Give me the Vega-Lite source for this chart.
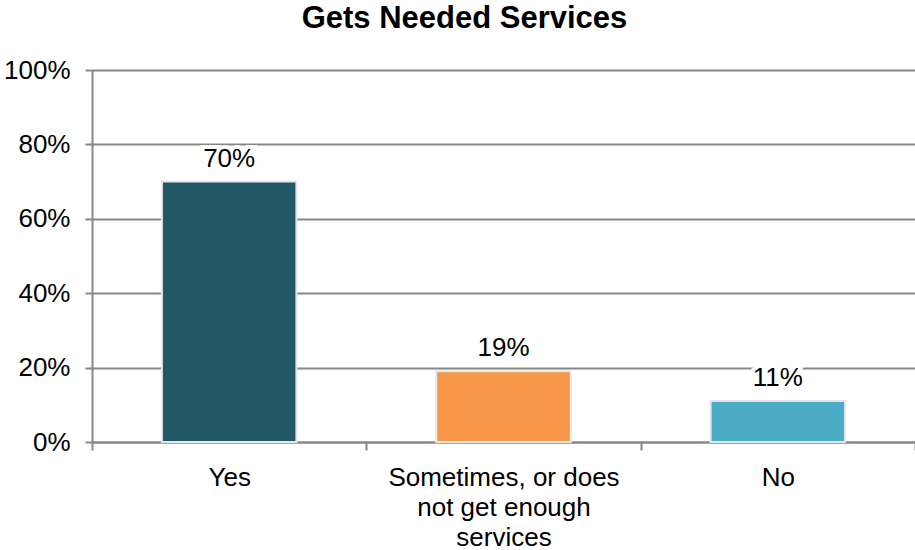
{
  "$schema": "https://vega.github.io/schema/vega-lite/v6.json",
  "autosize": "none",
  "width": 823,
  "height": 372,
  "padding": {"left": 92, "top": 70, "right": 0, "bottom": 108},
  "background": "white",
  "title": {
    "text": "Gets Needed Services",
    "font": "Liberation Sans",
    "fontSize": 31,
    "fontWeight": "bold",
    "color": "#000000",
    "anchor": "middle",
    "dx": -39,
    "offset": 22
  },
  "data": {
    "values": [
      {"category": "Yes", "value": 70, "label": "70%"},
      {"category": "Sometimes, or does|not get enough|services", "value": 19, "label": "19%"},
      {"category": "No", "value": 11, "label": "11%"}
    ]
  },
  "config": {
    "view": {"stroke": null},
    "font": "Liberation Sans"
  },
  "encoding": {
    "x": {
      "field": "category",
      "type": "nominal",
      "sort": null,
      "scale": {"paddingInner": 0, "paddingOuter": 0},
      "axis": {
        "title": null,
        "labelAngle": 0,
        "labelExpr": "split(datum.label, '|')",
        "labelFont": "Liberation Sans",
        "labelFontSize": 26,
        "labelColor": "#000000",
        "labelLineHeight": 30,
        "labelLimit": 0,
        "labelPadding": 14,
        "labelBaseline": "top",
        "domainColor": "#888888",
        "domainWidth": 2,
        "tickColor": "#888888",
        "tickWidth": 2,
        "tickSize": 8,
        "tickBand": "extent",
        "grid": false
      }
    },
    "y": {
      "field": "value",
      "type": "quantitative",
      "scale": {"domain": [0, 100], "nice": false},
      "axis": {
        "title": null,
        "values": [0, 20, 40, 60, 80, 100],
        "labelExpr": "datum.value + '%'",
        "labelFont": "Liberation Sans",
        "labelFontSize": 26,
        "labelColor": "#000000",
        "labelPadding": 15,
        "domainColor": "#888888",
        "domainWidth": 2,
        "tickColor": "#888888",
        "tickWidth": 2,
        "tickSize": 7,
        "grid": true,
        "gridColor": "#888888",
        "gridWidth": 2
      }
    }
  },
  "layer": [
    {
      "mark": {"type": "bar", "width": {"band": 0.49}, "stroke": "#e6e6e6", "strokeWidth": 2},
      "encoding": {
        "color": {
          "field": "category",
          "type": "nominal",
          "sort": null,
          "scale": {"range": ["#225866", "#f79646", "#4bacc6"]},
          "legend": null
        }
      }
    },
    {
      "mark": {"type": "text", "baseline": "bottom", "dy": -10, "fontSize": 26, "font": "Liberation Sans", "stroke": "white", "strokeWidth": 8, "fill": "white"},
      "encoding": {"text": {"field": "label"}}
    },
    {
      "mark": {"type": "text", "baseline": "bottom", "dy": -10, "fontSize": 26, "font": "Liberation Sans", "fill": "#000000"},
      "encoding": {"text": {"field": "label"}}
    }
  ]
}
